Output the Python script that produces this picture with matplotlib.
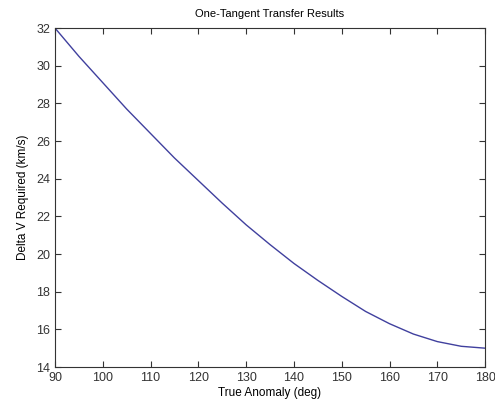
import matplotlib

matplotlib.use("Agg")

import matplotlib.pyplot as plt

# true anomaly (deg) and required delta-v (km/s)
true_anomaly = [90, 95, 100, 105, 110, 115, 120, 125, 130, 135,
                140, 145, 150, 155, 160, 165, 170, 175, 180]
delta_v = [32.0, 30.5, 29.1, 27.7, 26.4, 25.1, 23.9, 22.7, 21.55, 20.5,
           19.5, 18.6, 17.75, 16.95, 16.3, 15.75, 15.35, 15.1, 15.0]

x_ticks = [90, 100, 110, 120, 130, 140, 150, 160, 170, 180]
y_ticks = [14, 16, 18, 20, 22, 24, 26, 28, 30, 32]

plt.rcParams["font.family"] = ["Liberation Sans", "DejaVu Sans"]

fig = plt.figure(figsize=(4.95, 4.03), dpi=100)
ax = fig.add_axes([0.111, 0.0893, 0.869, 0.8412])
ax.plot(true_anomaly, delta_v, color="#40409e", linewidth=1.0)

ax.set_xlim(90, 180)
ax.set_ylim(14, 32)
ax.set_xticks(x_ticks)
ax.set_yticks(y_ticks)
ax.tick_params(direction="in", length=4, width=0.8, labelsize=9,
               top=True, right=True, colors="#333333")
for spine in ax.spines.values():
    spine.set_linewidth(0.8)
    spine.set_color("#333333")

ax.set_title("One-Tangent Transfer Results", fontsize=8, pad=8)
ax.set_xlabel("True Anomaly (deg)", fontsize=8.5, labelpad=2)
ax.set_ylabel("Delta V Required (km/s)", fontsize=8.5, labelpad=5)

fig.savefig("out.png", dpi=100)
plt.close(fig)
